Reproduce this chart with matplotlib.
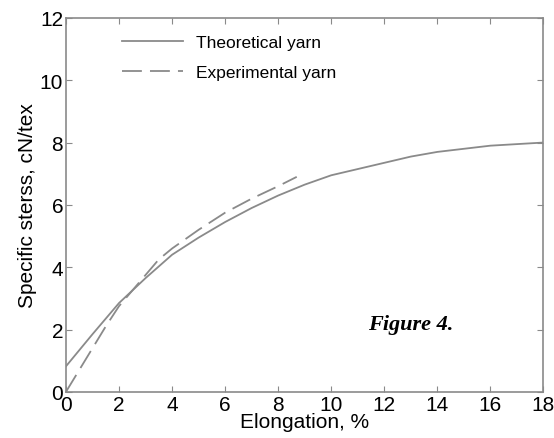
# Specific stress vs elongation, theoretical and experimental yarn.

import matplotlib
matplotlib.use('Agg')
import matplotlib.pyplot as plt

plt.rcParams['font.family'] = ['Liberation Sans', 'DejaVu Sans']

# Theoretical yarn curve
theo_x = [0, 1, 2, 3, 4, 5, 6, 7, 8, 9, 10, 11, 12, 13, 14, 15, 16, 17, 18]
theo_y = [0.82, 1.85, 2.85, 3.65, 4.4, 4.95, 5.45, 5.9, 6.3, 6.65, 6.95,
          7.15, 7.35, 7.55, 7.7, 7.8, 7.9, 7.95, 8.0]

# Experimental yarn curve
exp_x = [0, 0.5, 1, 1.5, 2, 2.5, 3, 3.5, 4, 5, 6, 7, 8, 8.7]
exp_y = [0, 0.7, 1.4, 2.1, 2.75, 3.25, 3.75, 4.25, 4.6, 5.2, 5.75, 6.2, 6.6, 6.9]

x_ticks = [0, 2, 4, 6, 8, 10, 12, 14, 16, 18]
y_ticks = [0, 2, 4, 6, 8, 10, 12]

line_color = '#8a8a8a'

fig = plt.figure(figsize=(5.54, 4.39), dpi=100)
ax = fig.add_axes([0.119, 0.105, 0.862, 0.852])

ax.plot(theo_x, theo_y, color=line_color, lw=1.3, label='Theoretical yarn')
ax.plot(exp_x, exp_y, color=line_color, lw=1.3, dashes=(11, 4.5),
        label='Experimental yarn')

ax.set_xlim(0, 18)
ax.set_ylim(0, 12)
ax.set_xticks(x_ticks)
ax.set_yticks(y_ticks)
ax.tick_params(direction='in', top=True, right=True, length=4,
               color=line_color, labelsize=15, pad=2)
for s in ax.spines.values():
    s.set_color(line_color)
    s.set_linewidth(1.2)

ax.set_xlabel('Elongation, %', fontsize=15, labelpad=-1)
ax.set_ylabel('Specific sterss, cN/tex', fontsize=15, labelpad=2)

ax.legend(loc='upper left', bbox_to_anchor=(0.1, 0.978), frameon=False,
          fontsize=12.5, handlelength=3.5, handletextpad=0.75,
          labelspacing=0.85, borderpad=0)

ax.text(13.0, 2.18, 'Figure 4.', family='Liberation Serif', fontsize=16,
        fontweight='bold', fontstyle='italic', ha='center', va='center')

fig.savefig('out.png', dpi=100)
